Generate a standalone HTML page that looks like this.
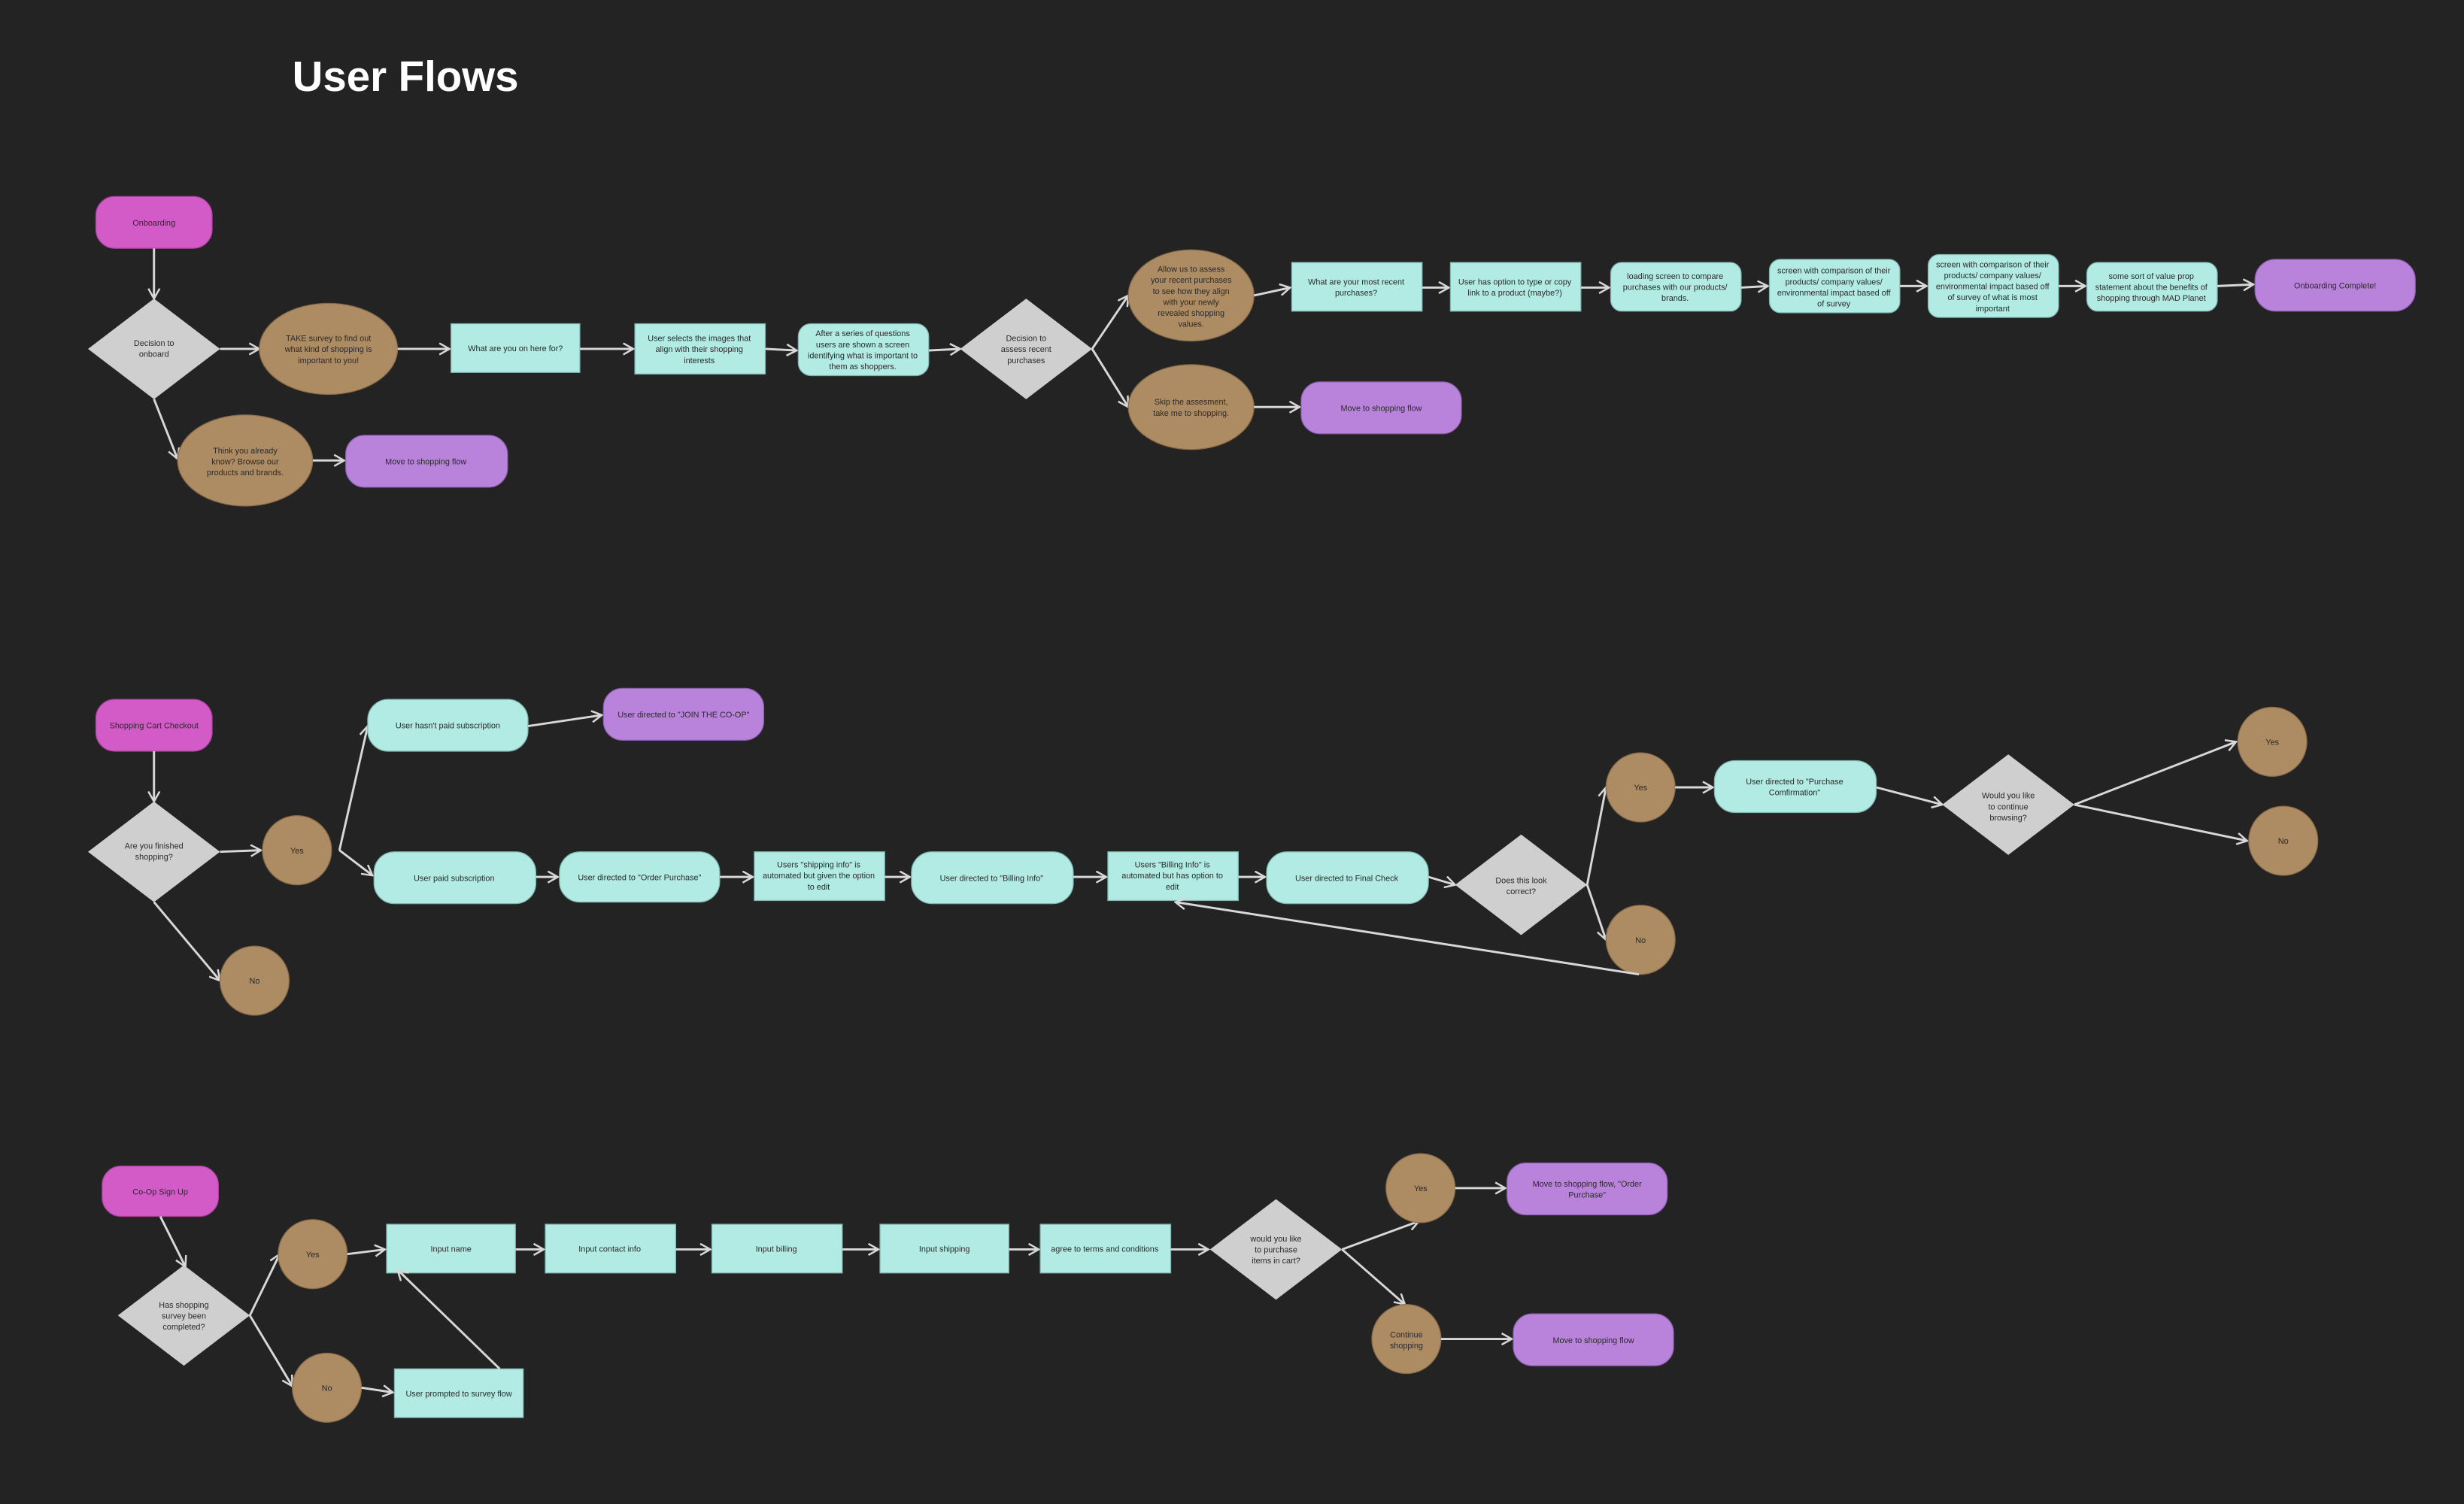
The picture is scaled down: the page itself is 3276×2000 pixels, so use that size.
<!DOCTYPE html>
<html><head><meta charset="utf-8"><style>
html,body{margin:0;padding:0;background:#232323;}
svg{display:block}
text{font-family:"Liberation Sans Narrow","Liberation Sans",sans-serif;font-size:5.2px;fill:#2a2a2a;text-anchor:middle}
.t{font-family:"Liberation Sans",sans-serif;font-weight:bold;font-size:27px;fill:#fff;text-anchor:start}
.a{stroke:#d8d8d8;stroke-width:1.4;fill:none;marker-end:url(#m)}
.mg{fill:#d35bc8;stroke:#a8409c;stroke-width:.6}
.pu{fill:#b983dc;stroke:#8e5fb0;stroke-width:.6}
.te{fill:#b2ebe4;stroke:#7fb5ad;stroke-width:.6}
.br{fill:#ad8b63;stroke:#8a6b48;stroke-width:.6}
.di{fill:#cfcfcf}
</style></head><body>
<svg width="3276" height="2000" viewBox="0 0 1568 957" preserveAspectRatio="none" xmlns="http://www.w3.org/2000/svg">
<defs><marker id="m" viewBox="0 0 10 10" refX="9" refY="5" markerWidth="8" markerHeight="8" orient="auto" markerUnits="userSpaceOnUse"><path d="M1 0.5 L9 5 L1 9.5" fill="none" stroke="#d8d8d8" stroke-width="1.5"/></marker></defs>
<rect width="1568" height="957" fill="#232323"/>
<text class="t" x="186" y="58">User Flows</text>

<!-- ROW 1 -->
<rect class="mg" x="61" y="125" width="74" height="33" rx="12"/><text x="98" y="143.5">Onboarding</text>
<path class="a" d="M98 158 L98 190"/>
<polygon class="di" points="98,190 140,222 98,254 56,222"/><text x="98" y="220">Decision to</text><text x="98" y="227">onboard</text>
<path class="a" d="M140 222 L165 222"/>
<ellipse class="br" cx="209" cy="222" rx="44" ry="29"/><text x="209" y="217">TAKE survey to find out</text><text x="209" y="224">what kind of shopping is</text><text x="209" y="231">important to you!</text>
<path class="a" d="M253 222 L286 222"/>
<rect class="te" x="287" y="206" width="82" height="31"/><text x="328" y="223.5">What are you on here for?</text>
<path class="a" d="M369 222 L403 222"/>
<rect class="te" x="404" y="206" width="83" height="32"/><text x="445" y="217">User selects the images that</text><text x="445" y="224">align with their shopping</text><text x="445" y="231">interests</text>
<path class="a" d="M487 222 L507 223"/>
<rect class="te" x="508" y="206" width="83" height="33" rx="8"/><text x="549" y="214">After a series of questions</text><text x="549" y="221">users are shown a screen</text><text x="549" y="228">identifying what is important to</text><text x="549" y="235">them as shoppers.</text>
<path class="a" d="M591 223 L611 222"/>
<polygon class="di" points="653,190 695,222 653,254 611,222"/><text x="653" y="217">Decision to</text><text x="653" y="224">assess recent</text><text x="653" y="231">purchases</text>
<path class="a" d="M695 222 L718 188"/>
<path class="a" d="M695 222 L718 259"/>
<ellipse class="br" cx="758" cy="188" rx="40" ry="29"/><text x="758" y="173">Allow us to assess</text><text x="758" y="180">your recent purchases</text><text x="758" y="187">to see how they align</text><text x="758" y="194">with your newly</text><text x="758" y="201">revealed shopping</text><text x="758" y="208">values.</text>
<ellipse class="br" cx="758" cy="259" rx="40" ry="27"/><text x="758" y="257.5">Skip the assesment,</text><text x="758" y="264.5">take me to shopping.</text>
<path class="a" d="M798 259 L827 259"/>
<rect class="pu" x="828" y="243" width="102" height="33" rx="12"/><text x="879" y="261.5">Move to shopping flow</text>
<path class="a" d="M798 188 L821 183"/>
<rect class="te" x="822" y="167" width="83" height="31"/><text x="863" y="181">What are your most recent</text><text x="863" y="188">purchases?</text>
<path class="a" d="M905 183 L922 183"/>
<rect class="te" x="923" y="167" width="83" height="31"/><text x="964" y="181">User has option to type or copy</text><text x="964" y="188">link to a product (maybe?)</text>
<path class="a" d="M1006 183 L1024 183"/>
<rect class="te" x="1025" y="167" width="83" height="31" rx="7"/><text x="1066" y="177.5">loading screen to compare</text><text x="1066" y="184.5">purchases with our products/</text><text x="1066" y="191.5">brands.</text>
<path class="a" d="M1108 183 L1125 182"/>
<rect class="te" x="1126" y="165" width="83" height="34" rx="7"/><text x="1167" y="174">screen with comparison of their</text><text x="1167" y="181">products/ company values/</text><text x="1167" y="188">environmental impact based off</text><text x="1167" y="195">of survey</text>
<path class="a" d="M1209 182 L1226 182"/>
<rect class="te" x="1227" y="162" width="83" height="40" rx="7"/><text x="1268" y="170">screen with comparison of their</text><text x="1268" y="177">products/ company values/</text><text x="1268" y="184">environmental impact based off</text><text x="1268" y="191">of survey of what is most</text><text x="1268" y="198">important</text>
<path class="a" d="M1310 182 L1327 182"/>
<rect class="te" x="1328" y="167" width="83" height="31" rx="7"/><text x="1369" y="177.5">some sort of value prop</text><text x="1369" y="184.5">statement about the benefits of</text><text x="1369" y="191.5">shopping through MAD Planet</text>
<path class="a" d="M1411 182 L1434 181"/>
<rect class="pu" x="1435" y="165" width="102" height="33" rx="13"/><text x="1486" y="183.5">Onboarding Complete!</text>
<path class="a" d="M98 254 L113 292"/>
<ellipse class="br" cx="156" cy="293" rx="43" ry="29"/><text x="156" y="288.5">Think you already</text><text x="156" y="295.5">know? Browse our</text><text x="156" y="302.5">products and brands.</text>
<path class="a" d="M199 293 L219 293"/>
<rect class="pu" x="220" y="277" width="103" height="33" rx="12"/><text x="271" y="295.5">Move to shopping flow</text>

<!-- ROW 2 -->
<rect class="mg" x="61" y="445" width="74" height="33" rx="12"/><text x="98" y="463.5">Shopping Cart Checkout</text>
<path class="a" d="M98 478 L98 510"/>
<polygon class="di" points="98,510 140,542 98,574 56,542"/><text x="98" y="540">Are you finished</text><text x="98" y="547">shopping?</text>
<path class="a" d="M140 542 L166 541"/>
<ellipse class="br" cx="189" cy="541" rx="22" ry="22"/><text x="189" y="543">Yes</text>
<path class="a" d="M98 574 L140 624"/>
<ellipse class="br" cx="162" cy="624" rx="22" ry="22"/><text x="162" y="626">No</text>
<path class="a" d="M216 541 L234 462"/>
<path class="a" d="M216 541 L237 557"/>
<rect class="te" x="234" y="445" width="102" height="33" rx="13"/><text x="285" y="463.5">User hasn't paid subscription</text>
<path class="a" d="M336 462 L383 455"/>
<rect class="pu" x="384" y="438" width="102" height="33" rx="12"/><text x="435" y="456.5">User directed to "JOIN THE CO-OP"</text>
<rect class="te" x="238" y="542" width="103" height="33" rx="13"/><text x="289" y="560.5">User paid subscription</text>
<path class="a" d="M341 558 L355 558"/>
<rect class="te" x="356" y="542" width="102" height="32" rx="13"/><text x="407" y="560">User directed to "Order Purchase"</text>
<path class="a" d="M458 558 L479 558"/>
<rect class="te" x="480" y="542" width="83" height="31"/><text x="521" y="552">Users "shipping info" is</text><text x="521" y="559">automated but given the option</text><text x="521" y="566">to edit</text>
<path class="a" d="M563 558 L579 558"/>
<rect class="te" x="580" y="542" width="103" height="33" rx="13"/><text x="631" y="560.5">User directed to "Billing Info"</text>
<path class="a" d="M683 558 L704 558"/>
<rect class="te" x="705" y="542" width="83" height="31"/><text x="746" y="552">Users "Billing Info" is</text><text x="746" y="559">automated but has option to</text><text x="746" y="566">edit</text>
<path class="a" d="M788 558 L805 558"/>
<rect class="te" x="806" y="542" width="103" height="33" rx="13"/><text x="857" y="560.5">User directed to Final Check</text>
<path class="a" d="M909 558 L926 563"/>
<polygon class="di" points="968,531 1010,563 968,595 926,563"/><text x="968" y="562">Does this look</text><text x="968" y="569">correct?</text>
<path class="a" d="M1010 563 L1022 501"/>
<path class="a" d="M1010 563 L1022 598"/>
<ellipse class="br" cx="1044" cy="501" rx="22" ry="22"/><text x="1044" y="503">Yes</text>
<ellipse class="br" cx="1044" cy="598" rx="22" ry="22"/><text x="1044" y="600">No</text>
<path class="a" d="M1043 620 L748 574"/>
<path class="a" d="M1066 501 L1090 501"/>
<rect class="te" x="1091" y="484" width="103" height="33" rx="13"/><text x="1142" y="499">User directed to "Purchase</text><text x="1142" y="506">Comfirmation"</text>
<path class="a" d="M1194 501 L1236 512"/>
<polygon class="di" points="1278,480 1320,512 1278,544 1236,512"/><text x="1278" y="508">Would you like</text><text x="1278" y="515">to continue</text><text x="1278" y="522">browsing?</text>
<path class="a" d="M1320 512 L1423 472"/>
<path class="a" d="M1320 512 L1430 535"/>
<ellipse class="br" cx="1446" cy="472" rx="22" ry="22"/><text x="1446" y="474">Yes</text>
<ellipse class="br" cx="1453" cy="535" rx="22" ry="22"/><text x="1453" y="537">No</text>

<!-- ROW 3 -->
<rect class="mg" x="65" y="742" width="74" height="32" rx="12"/><text x="102" y="760">Co-Op Sign Up</text>
<path class="a" d="M102 774 L118 806"/>
<polygon class="di" points="117,805 159,837 117,869 75,837"/><text x="117" y="832">Has shopping</text><text x="117" y="839">survey been</text><text x="117" y="846">completed?</text>
<path class="a" d="M159 837 L178 798"/>
<path class="a" d="M159 837 L186 882"/>
<ellipse class="br" cx="199" cy="798" rx="22" ry="22"/><text x="199" y="800">Yes</text>
<ellipse class="br" cx="208" cy="883" rx="22" ry="22"/><text x="208" y="885">No</text>
<path class="a" d="M221 798 L245 795"/>
<rect class="te" x="246" y="779" width="82" height="31"/><text x="287" y="796.5">Input name</text>
<path class="a" d="M328 795 L346 795"/>
<rect class="te" x="347" y="779" width="83" height="31"/><text x="388" y="796.5">Input contact info</text>
<path class="a" d="M430 795 L452 795"/>
<rect class="te" x="453" y="779" width="83" height="31"/><text x="494" y="796.5">Input billing</text>
<path class="a" d="M536 795 L559 795"/>
<rect class="te" x="560" y="779" width="82" height="31"/><text x="601" y="796.5">Input shipping</text>
<path class="a" d="M642 795 L661 795"/>
<rect class="te" x="662" y="779" width="83" height="31"/><text x="703" y="796.5">agree to terms and conditions</text>
<path class="a" d="M745 795 L769 795"/>
<polygon class="di" points="812,763 854,795 812,827 770,795"/><text x="812" y="790">would you like</text><text x="812" y="797">to purchase</text><text x="812" y="804">items in cart?</text>
<path class="a" d="M854 795 L903 777"/>
<path class="a" d="M854 795 L894 830"/>
<ellipse class="br" cx="904" cy="756" rx="22" ry="22"/><text x="904" y="758">Yes</text>
<ellipse class="br" cx="895" cy="852" rx="22" ry="22"/><text x="895" y="851">Continue</text><text x="895" y="858">shopping</text>
<path class="a" d="M926 756 L958 756"/>
<rect class="pu" x="959" y="740" width="102" height="33" rx="12"/><text x="1010" y="755">Move to shopping flow, "Order</text><text x="1010" y="762">Purchase"</text>
<path class="a" d="M917 852 L962 852"/>
<rect class="pu" x="963" y="836" width="102" height="33" rx="12"/><text x="1014" y="854.5">Move to shopping flow</text>
<path class="a" d="M230 883 L250 886"/>
<rect class="te" x="251" y="871" width="82" height="31"/><text x="292" y="888.5">User prompted to survey flow</text>
<path class="a" d="M318 871 L253 808"/>
</svg>
</body></html>
